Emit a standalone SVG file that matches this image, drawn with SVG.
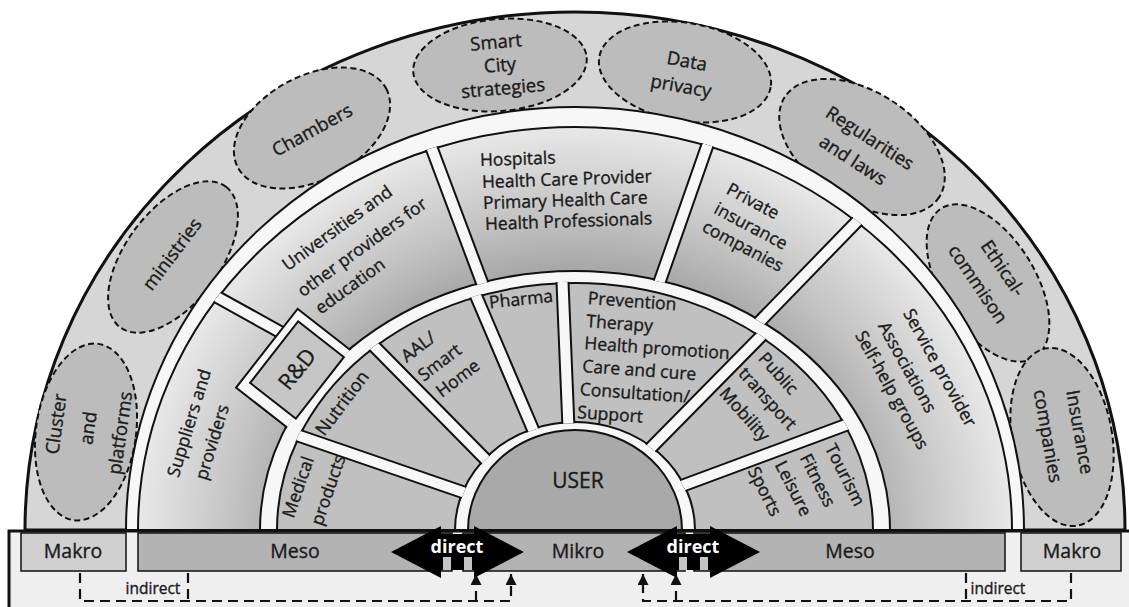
<svg xmlns="http://www.w3.org/2000/svg" width="1129" height="607" viewBox="0 0 1129 607">
<defs>
  <radialGradient id="g2" gradientUnits="userSpaceOnUse" cx="575" cy="530" r="437" gradientTransform="matrix(1 0 0 0.922 0 41.34)">
    <stop offset="0.58" stop-color="#9a9a9a"/>
    <stop offset="0.78" stop-color="#c2c2c2"/>
    <stop offset="1" stop-color="#e8e8e8"/>
  </radialGradient>
  <clipPath id="c2"><path d="M136.8,530 A438.2,404.2 0 0 1 1013.2,530 L888.8,530 A313.8,257.8 0 0 0 261.2,530 Z"/></clipPath>
  <clipPath id="c3"><path d="M275.8,530 A299.2,248.2 0 0 1 874.2,530 L693.8,530 A118.8,106.8 0 0 0 456.2,530 Z"/></clipPath>
  <marker id="ah" viewBox="0 0 10 10" refX="10" refY="5" markerWidth="5" markerHeight="5" orient="auto"><path d="M0,0 L10,5 L0,10 z" fill="#111"/></marker>
</defs>
<style>
  text { font-family: "Open Sans", "Liberation Sans", sans-serif; fill: #1a1a1a; stroke: #1a1a1a; stroke-width: 0.35px; }
  .ob { font-size: 18.5px; text-anchor: middle; }
  .t { font-size: 17.5px; }
  .m { text-anchor: middle; }
  .s { text-anchor: start; }
  .dash { fill: #bcbcbc; stroke: #111; stroke-width: 2; stroke-dasharray: 6 3.5; }
  .ring { stroke: #111; stroke-width: 2; }
  .sepb { stroke: #111; stroke-width: 14; }
  .sepw { stroke: #f7f7f7; stroke-width: 10; }
  .bar { stroke: #111; stroke-width: 1.5; }
  .bt { font-size: 19.5px; text-anchor: middle; }
  .dir { font-size: 18px; font-weight: bold; fill: #fff; stroke: none; text-anchor: middle; }
  .ind { fill: none; stroke: #111; stroke-width: 2.2; stroke-dasharray: 10 6; }
</style>

<!-- rings -->
<g id="rings">
  <path id="outer-band" d="M25,530 A550,518 0 0 1 1125,530 Z" fill="#d6d6d6" stroke="#111" stroke-width="3"/>
</g>

<!-- Makro ellipses -->
<g id="n-cluster">
  <ellipse class="dash" cx="0" cy="0" rx="50" ry="89" transform="translate(86,432) rotate(8)"/>
  <text class="ob" transform="translate(56,424) rotate(-82)" dy="0.35em">Cluster</text>
  <text class="ob" transform="translate(88,428) rotate(-82)" dy="0.35em">and</text>
  <text class="ob" transform="translate(120,433) rotate(-82)" dy="0.35em">platforms</text>
</g>
<g id="n-ministries">
  <ellipse class="dash" cx="0" cy="0" rx="88" ry="47" transform="translate(173,257) rotate(-53)"/>
  <text class="ob" transform="translate(172,254) rotate(-53)" dy="0.35em">ministries</text>
</g>
<g id="n-chambers">
  <ellipse class="dash" cx="0" cy="0" rx="84" ry="52" transform="translate(312,128) rotate(-28)"/>
  <text class="ob" transform="translate(312,130) rotate(-29)" dy="0.35em">Chambers</text>
</g>
<g id="n-smartcity">
  <ellipse class="dash" cx="0" cy="0" rx="87" ry="46" transform="translate(500,65) rotate(-5)"/>
  <text class="ob" transform="translate(496,42) rotate(-5)" dy="0.35em">Smart</text>
  <text class="ob" transform="translate(500,65) rotate(-5)" dy="0.35em">City</text>
  <text class="ob" transform="translate(503,88) rotate(-5)" dy="0.35em">strategies</text>
</g>
<g id="n-dataprivacy">
  <ellipse class="dash" cx="0" cy="0" rx="87" ry="49" transform="translate(685,72) rotate(10)"/>
  <text class="ob" transform="translate(687,61) rotate(10)" dy="0.35em">Data</text>
  <text class="ob" transform="translate(681,86) rotate(10)" dy="0.35em">privacy</text>
</g>
<g id="n-regularities">
  <ellipse class="dash" cx="0" cy="0" rx="92" ry="55" transform="translate(862,147) rotate(33)"/>
  <text class="ob" transform="translate(870,138) rotate(33)" dy="0.35em">Regularities</text>
  <text class="ob" transform="translate(853,160) rotate(33)" dy="0.35em">and laws</text>
</g>
<g id="n-ethical">
  <ellipse class="dash" cx="0" cy="0" rx="88" ry="47" transform="translate(988,283) rotate(58)"/>
  <text class="ob" transform="translate(1003,268) rotate(56)" dy="0.35em">Ethical-</text>
  <text class="ob" transform="translate(978,284) rotate(56)" dy="0.35em">commison</text>
</g>
<g id="n-insurance">
  <ellipse class="dash" cx="0" cy="0" rx="50" ry="90" transform="translate(1062,437) rotate(-10)"/>
  <text class="ob" transform="translate(1080,432) rotate(80)" dy="0.35em">Insurance</text>
  <text class="ob" transform="translate(1048,436) rotate(80)" dy="0.35em">companies</text>
</g>

<!-- Meso ring -->
<g id="meso-ring">
  <path d="M126,530 A449,423 0 0 1 1024,530 Z" fill="#f7f7f7" class="ring"/>
  <path d="M138,530 A437,403 0 0 1 1012,530 L890,530 A315,259 0 0 0 260,530 Z" fill="url(#g2)" class="ring"/>
</g>
<!-- Mikro ring -->
<g id="mikro-ring">
  <path d="M277,530 A298,247 0 0 1 873,530 L695,530 A120,108 0 0 0 455,530 Z" fill="#c0c0c0" class="ring"/>
</g>

<g id="separators">
  <g clip-path="url(#c2)">
    <path class="sepb" d="M190,282 L300,343 M420,117 L490,304 M718,115 L655,295 M870,208 L735,347"/>
    <path class="sepw" d="M190,282 L300,343 M420,117 L490,304 M718,115 L655,295 M870,208 L735,347"/>
    <rect x="-50" y="-37" width="100" height="74" transform="translate(296,371) rotate(-52)" fill="#f7f7f7" stroke="#111" stroke-width="2"/>
  </g>
  <g clip-path="url(#c3)">
    <path class="sepb" d="M285,431 L480,498 M365,337 L495,469 M465,270 L540,446 M562,270 L569,440 M775,322 L640,459 M870,416 L660,494"/>
    <path class="sepw" d="M285,431 L480,498 M365,337 L495,469 M465,270 L540,446 M562,270 L569,440 M775,322 L640,459 M870,416 L660,494"/>
  </g>
</g>

<!-- Meso nodes -->
<g id="n-suppliers">
  <text class="t m" transform="translate(189,423) rotate(-73)" dy="0.35em">Suppliers and</text>
  <text class="t m" transform="translate(212,442) rotate(-73)" dy="0.35em">providers</text>
</g>
<g id="n-rd">
  <rect x="-39" y="-29" width="78" height="58" transform="translate(297,370) rotate(-52)" fill="#c6c6c6" stroke="#111" stroke-width="2"/>
  <text class="m" style="font-size:22px" transform="translate(297,369) rotate(-51)" dy="0.35em">R&amp;D</text>
</g>
<g id="n-universities">
  <text class="t m" transform="translate(337,228) rotate(-36)" dy="0.35em">Universities and</text>
  <text class="t m" transform="translate(362,247) rotate(-36)" dy="0.35em">other providers for</text>
  <text class="t m" transform="translate(350,286) rotate(-36)" dy="0.35em">education</text>
</g>
<g id="n-hospitals">
  <text class="t s" transform="translate(480,160) rotate(-2)" dy="0.35em">Hospitals</text>
  <text class="t s" transform="translate(482,182) rotate(-2)" dy="0.35em">Health Care Provider</text>
  <text class="t s" transform="translate(483,203) rotate(-2)" dy="0.35em">Primary Health Care</text>
  <text class="t s" transform="translate(485,224) rotate(-2)" dy="0.35em">Health Professionals</text>
</g>
<g id="n-private">
  <text class="t m" transform="translate(753,201) rotate(28)" dy="0.35em">Private</text>
  <text class="t m" transform="translate(751,226) rotate(28)" dy="0.35em">insurance</text>
  <text class="t m" transform="translate(743,246) rotate(28)" dy="0.35em">companies</text>
</g>
<g id="n-service">
  <text class="t s" transform="translate(908,310) rotate(61)" dy="0.35em">Service provider</text>
  <text class="t s" transform="translate(883,323) rotate(61)" dy="0.35em">Associations</text>
  <text class="t s" transform="translate(860,332) rotate(61)" dy="0.35em">Self-help groups</text>
</g>

<!-- Mikro nodes -->
<g id="n-medical">
  <text class="t m" transform="translate(298,487) rotate(-71)" dy="0.35em">Medical</text>
  <text class="t m" transform="translate(328,490) rotate(-71)" dy="0.35em">products</text>
</g>
<g id="n-nutrition">
  <text class="t m" style="font-size:18px" transform="translate(342,403) rotate(-53)" dy="0.35em">Nutrition</text>
</g>
<g id="n-aal">
  <text class="t s" transform="translate(403,358) rotate(-37)" dy="0.35em">AAL/</text>
  <text class="t s" transform="translate(420,377) rotate(-37)" dy="0.35em">Smart</text>
  <text class="t s" transform="translate(438,393) rotate(-37)" dy="0.35em">Home</text>
</g>
<g id="n-pharma">
  <text class="t m" transform="translate(521,299) rotate(-6)" dy="0.35em">Pharma</text>
</g>
<g id="n-prevention">
  <text class="t s" transform="translate(588,298) rotate(4)" dy="0.35em">Prevention</text>
  <text class="t s" transform="translate(586.5,321) rotate(4)" dy="0.35em">Therapy</text>
  <text class="t s" transform="translate(584.5,343) rotate(4)" dy="0.35em">Health promotion</text>
  <text class="t s" transform="translate(582.5,366) rotate(4)" dy="0.35em">Care and cure</text>
  <text class="t s" transform="translate(580,389) rotate(4)" dy="0.35em">Consultation/</text>
  <text class="t s" transform="translate(577.5,412) rotate(4)" dy="0.35em">Support</text>
</g>
<g id="n-transport">
  <text class="t s" transform="translate(762,355) rotate(48)" dy="0.35em">Public</text>
  <text class="t s" transform="translate(742,370) rotate(48)" dy="0.35em">transport</text>
  <text class="t s" transform="translate(723,390) rotate(48)" dy="0.35em">Mobility</text>
</g>
<g id="n-tourism">
  <text class="t s" transform="translate(830,445) rotate(63)" dy="0.35em">Tourism</text>
  <text class="t s" transform="translate(805,455) rotate(63)" dy="0.35em">Fitness</text>
  <text class="t s" transform="translate(780,462) rotate(63)" dy="0.35em">Leisure</text>
  <text class="t s" transform="translate(753,468) rotate(63)" dy="0.35em">Sports</text>
</g>
<g id="n-user">
  <path d="M468,530 A107,100 0 0 1 682,530 Z" fill="#a9a9a9" class="ring"/>
  <text class="m" style="font-size:21px" x="578" y="488">USER</text>
</g>

<!-- bottom frame and level bars -->
<g id="frame">
  <rect x="9" y="531" width="1125" height="80" fill="#efefef"/>
  <path d="M9,607 V531 H1129" fill="none" stroke="#111" stroke-width="3"/>
</g>
<g id="n-makro-left">
  <rect class="bar" x="21" y="533" width="105" height="38" fill="#d0d0d0"/>
  <text class="bt" x="73" y="558">Makro</text>
</g>
<g id="n-meso-left">
  <rect class="bar" x="138" y="533" width="314" height="38" fill="#b3b3b3"/>
  <text class="bt" x="295" y="558">Meso</text>
</g>
<g id="n-mikro">
  <rect class="bar" x="463" y="533" width="222" height="38" fill="#b3b3b3"/>
  <text class="bt" x="578" y="558">Mikro</text>
</g>
<g id="n-meso-right">
  <rect class="bar" x="694" y="533" width="311" height="38" fill="#b3b3b3"/>
  <text class="bt" x="850" y="558">Meso</text>
</g>
<g id="n-makro-right">
  <rect class="bar" x="1021" y="533" width="100" height="38" fill="#d0d0d0"/>
  <text class="bt" x="1072" y="558">Makro</text>
</g>

<g id="connectors">
  <g id="direct-left">
    <polygon points="391,552 441,526 441,534 474,534 474,526 524,552 474,578 474,570 441,570 441,578" fill="#000"/>
    <rect x="443" y="557" width="8" height="13" fill="#c4c4c4"/>
    <rect x="464" y="557" width="8" height="13" fill="#c4c4c4"/>
    <text class="dir" x="457" y="553">direct</text>
  </g>
  <g id="direct-right">
    <polygon points="627,552 677,526 677,534 710,534 710,526 760,552 710,578 710,570 677,570 677,578" fill="#000"/>
    <rect x="679" y="557" width="8" height="13" fill="#c4c4c4"/>
    <rect x="700" y="557" width="8" height="13" fill="#c4c4c4"/>
    <text class="dir" x="693" y="553">direct</text>
  </g>
  <g id="indirect-left">
    <path class="ind" d="M80,573 V601 H511 V574" marker-end="url(#ah)"/>
    <path class="ind" d="M188,573 V601"/>
    <path class="ind" d="M476,601 V574" marker-end="url(#ah)"/>
    <text style="font-size:15.5px" text-anchor="middle" x="153" y="594">indirect</text>
  </g>
  <g id="indirect-right">
    <path class="ind" d="M1071,573 V601 H643 V574" marker-end="url(#ah)"/>
    <path class="ind" d="M966,573 V601"/>
    <path class="ind" d="M676,601 V574" marker-end="url(#ah)"/>
    <text style="font-size:15.5px" text-anchor="middle" x="998" y="594">indirect</text>
  </g>
</g>
</svg>
